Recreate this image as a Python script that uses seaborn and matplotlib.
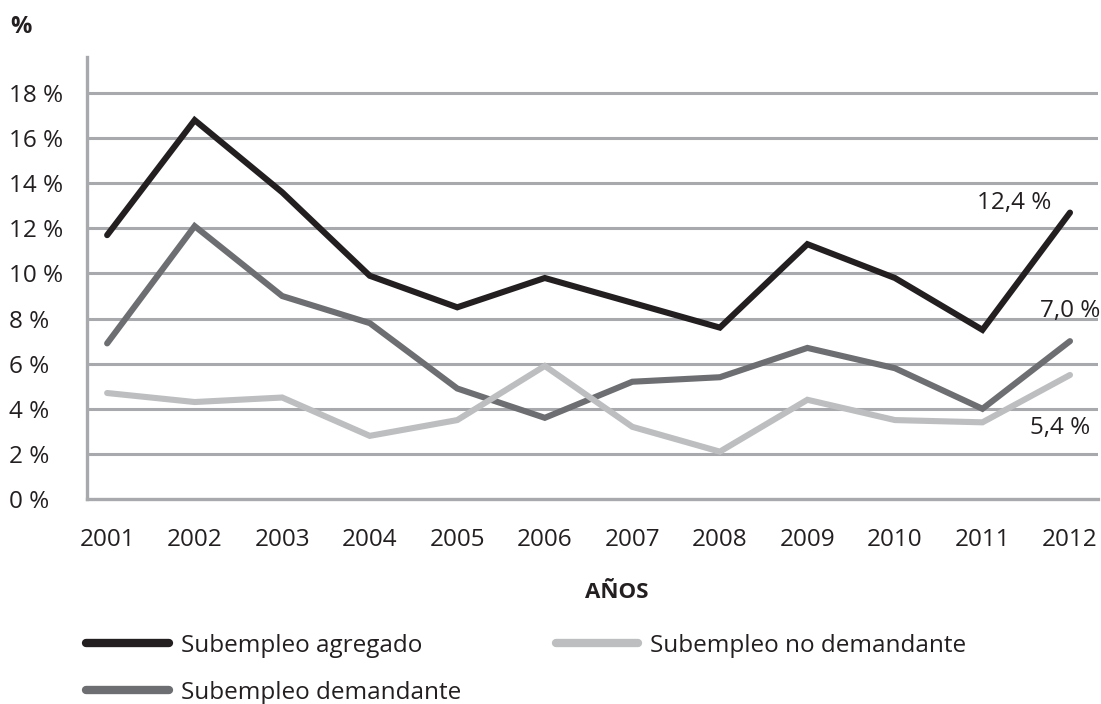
import numpy as np
import pandas as pd
import matplotlib
matplotlib.use("Agg")
import matplotlib.pyplot as plt
import seaborn as sns
from matplotlib.lines import Line2D

# ---- data ----
years = ["2001", "2002", "2003", "2004", "2005", "2006",
         "2007", "2008", "2009", "2010", "2011", "2012"]
agregado = [11.7, 16.8, 13.6, 9.9, 8.5, 9.8, 8.7, 7.6, 11.3, 9.8, 7.5, 12.7]
demandante = [6.9, 12.1, 9.0, 7.8, 4.9, 3.6, 5.2, 5.4, 6.7, 5.8, 4.0, 7.0]
no_demandante = [4.7, 4.3, 4.5, 2.8, 3.5, 5.9, 3.2, 2.1, 4.4, 3.5, 3.4, 5.5]
series_names = ["Subempleo agregado", "Subempleo demandante", "Subempleo no demandante"]
end_labels = ["12,4 %", "7,0 %", "5,4 %"]
y_ticks = [0, 2, 4, 6, 8, 10, 12, 14, 16, 18]
y_ticklabels = ["0 %", "2 %", "4 %", "6 %", "8 %", "10 %", "12 %", "14 %", "16 %", "18 %"]

colors = ["#231f20", "#6d6e71", "#bcbec0"]
grid_color = "#a7a9ac"
text_color = "#231f20"
FS = 17.5

df = pd.DataFrame({
    "x": list(range(len(years))) * 3,
    "value": agregado + demandante + no_demandante,
    "serie": [series_names[0]] * 12 + [series_names[1]] * 12 + [series_names[2]] * 12,
})

sns.set_theme(style="white")
plt.rcParams["font.family"] = ["Open Sans", "DejaVu Sans"]

fig = plt.figure(figsize=(11.01, 7.04), dpi=100)
ax = fig.add_axes([87 / 1101, 1 - 499 / 704, (1098 - 87) / 1101, (499 - 57) / 704])

for yv in y_ticks[1:]:
    ax.axhline(yv, color=grid_color, lw=2.2, zorder=1)

sns.lineplot(data=df, x="x", y="value", hue="serie", hue_order=series_names,
             palette=colors, linewidth=4.4, legend=False, ax=ax, zorder=3,
             solid_capstyle="round", solid_joinstyle="miter")

ax.set_xlim(-0.23, 11.32)
ax.set_ylim(0, 19.6)
ax.set_xticks(range(len(years)))
ax.set_xticklabels(years, fontsize=FS, color=text_color)
ax.set_xticks(np.arange(0.5, 11, 1.0), minor=True)
ax.tick_params(axis="x", which="major", length=0, pad=21)
ax.tick_params(axis="x", which="minor", length=8, width=1.2, color=grid_color, direction="out")
ax.set_yticks(y_ticks)
ax.set_yticklabels(y_ticklabels, fontsize=FS, color=text_color)
ax.tick_params(axis="y", length=0, pad=56)
for lbl in ax.get_yticklabels():
    lbl.set_horizontalalignment("left")

for s in ["top", "right"]:
    ax.spines[s].set_visible(False)
for s in ["left", "bottom"]:
    ax.spines[s].set_color(grid_color)
    ax.spines[s].set_linewidth(2.4)
ax.set_xlabel("")
ax.set_ylabel("")

# end labels
last = [agregado[-1], demandante[-1], no_demandante[-1]]
offsets = [(-40, 7), (0, 22), (-7, -38)]
for lab, yv, off in zip(end_labels, last, offsets):
    ax.annotate(lab, xy=(11, yv), xytext=off, textcoords="offset points",
                ha="center", va="center", fontsize=FS, color=text_color)

fig.text(10 / 1101, 1 - 27 / 704, "%", fontsize=17, fontweight="bold",
         color=text_color, ha="left", va="center")
fig.text(617 / 1101, 1 - 593 / 704, "AÑOS", fontsize=16, fontweight="bold",
         color=text_color, ha="center", va="center")

handles = [Line2D([0], [0], color=c, lw=6, solid_capstyle="round") for c in colors]
leg = fig.legend(handles, series_names, loc="upper left",
                 bbox_to_anchor=(64 / 1101, 1 - 612 / 704), ncol=2, frameon=False,
                 fontsize=FS, handlelength=3.4, handletextpad=0.5,
                 columnspacing=3.9, labelspacing=0.95)
for t in leg.get_texts():
    t.set_color(text_color)

fig.savefig("out.png", dpi=100)
